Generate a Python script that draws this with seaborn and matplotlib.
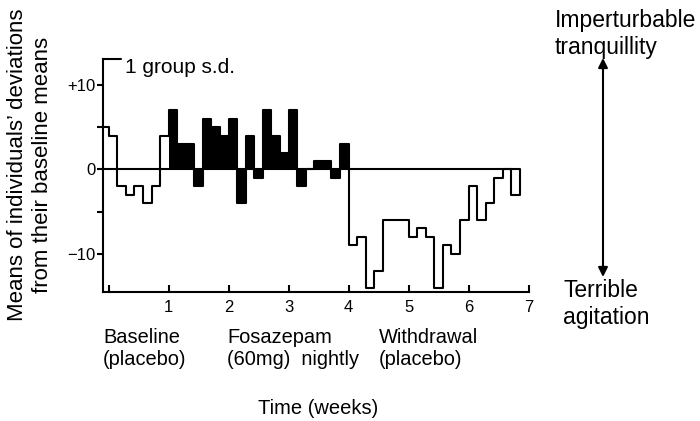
import numpy as np
import pandas as pd
import matplotlib
matplotlib.use("Agg")
import matplotlib.pyplot as plt
import seaborn as sns

# daily means of deviations from baseline (one value per day, day 0 = start of week 0)
baseline_days = list(range(-1, 7))
baseline_vals = [5, 4, -2, -3, -2, -4, -2, 4]
drug_days = list(range(7, 28))
drug_vals = [7, 3, 3, -2, 6, 5, 4, 6, -4, 4, -1, 7, 4, 2, 7, -2, 0, 1, 1, -1, 3]
withdraw_days = list(range(28, 48))
withdraw_vals = [-9, -8, -14, -12, -6, -6, -6, -8, -7, -8, -14, -9, -10, -6, -2, -6, -4, -1, 0, -3]

week_ticks = [0, 1, 2, 3, 4, 5, 6, 7]
week_labels = ["", "1", "2", "3", "4", "5", "6", "7"]
y_ticks = [-10, -5, 0, 5, 10]
y_labels = ["\u221210", "", "0", "", "+10"]

sns.set_style("ticks")
plt.rcParams['font.family'] = ['Liberation Sans', 'DejaVu Sans']
for k in ["text.color", "axes.labelcolor", "xtick.color", "ytick.color", "axes.edgecolor"]:
    plt.rcParams[k] = "black"

days = baseline_days + drug_days + withdraw_days
vals = baseline_vals + drug_vals + withdraw_vals
df = pd.DataFrame({"week": np.array(days) / 7.0, "value": vals})
# closing point so the last step returns to the zero line
end_week = (days[-1] + 1) / 7.0
df_line = pd.concat([df, pd.DataFrame({"week": [end_week], "value": [0]})], ignore_index=True)

fig = plt.figure(figsize=(7, 4.21), dpi=100)
ax = fig.add_axes([0.1467, 0.307, 0.755 - 0.1467, 0.861 - 0.307])

xmin, xmax = -0.1, 7.0
ymin, ymax = -14.5, 13.15

# black bars for the drug period
drug = pd.DataFrame({"week": np.array(drug_days + [drug_days[-1] + 1]) / 7.0,
                     "value": drug_vals + [drug_vals[-1]]})
ax.fill_between(drug["week"], 0, drug["value"], step="post", color="black", lw=0)

ax.hlines(0, xmin, end_week, color="black", lw=1.5)
sns.lineplot(data=df_line, x="week", y="value", drawstyle="steps-post",
             color="black", lw=1.5, estimator=None, sort=False, ax=ax)

ax.set_xlim(xmin, xmax)
ax.set_ylim(ymin, ymax)
ax.set_xticks(week_ticks)
ax.set_xticklabels(week_labels)
ax.set_yticks(y_ticks)
ax.set_yticklabels(y_labels)
ax.tick_params(axis="x", direction="in", length=5, width=1.5, labelsize=12, pad=6, colors="black")
ax.tick_params(axis="y", direction="out", length=4, width=1.5, labelsize=12, pad=1, colors="black")
ax.set_xlabel("")
ax.set_ylabel("")
sns.despine(ax=ax)
for s in ["left", "bottom"]:
    ax.spines[s].set_linewidth(1.5)
    ax.spines[s].set_color("black")

# "1 group s.d." bracket at top of y axis
ax.plot([xmin, xmin + 0.3], [ymax, ymax], color="black", lw=1.5, clip_on=False)
fig.text(125 / 700, 1 - 73 / 421, "1 group s.d.", fontsize=15, ha="left", va="baseline")

fig.text(30 / 700, 1 - 165 / 421,
         "Means of individuals\u2019 deviations\nfrom their baseline means",
         rotation=90, ha="center", va="center", multialignment="center", fontsize=16)

fig.text(103 / 700, 1 - 328 / 421, "Baseline\n(placebo)", fontsize=14.4, ha="left", va="top")
fig.text(227 / 700, 1 - 328 / 421, "Fosazepam\n(60mg)  nightly", fontsize=14.4, ha="left", va="top")
fig.text(379 / 700, 1 - 328 / 421, "Withdrawal\n(placebo)", fontsize=14.4, ha="left", va="top")
fig.text(318 / 700, 1 - 399 / 421, "Time (weeks)", fontsize=14.5, ha="center", va="top")

fig.text(555 / 700, 1 - 9 / 421, "Imperturbable\ntranquillity", fontsize=16.5, ha="left", va="top")
fig.text(563 / 700, 1 - 279 / 421, "Terrible\nagitation", fontsize=16.5, ha="left", va="top")
ax.annotate("", xy=(603 / 700, 1 - 58 / 421), xytext=(603 / 700, 1 - 277 / 421),
            xycoords="figure fraction", textcoords="figure fraction",
            arrowprops=dict(arrowstyle="<|-|>", color="black", lw=1.5,
                            mutation_scale=14, shrinkA=0, shrinkB=0),
            annotation_clip=False)

fig.savefig("out.png", dpi=100)
